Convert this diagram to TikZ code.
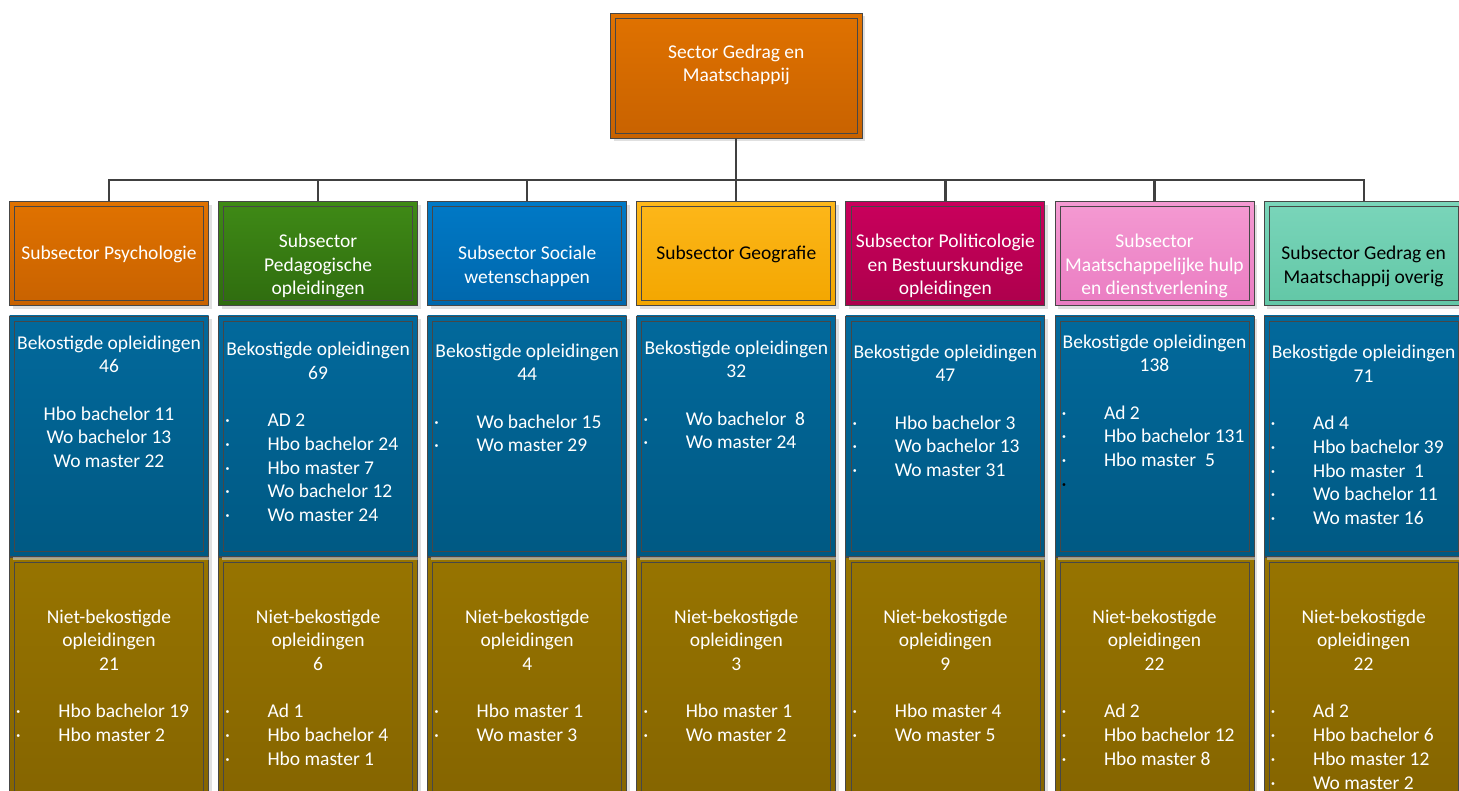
\documentclass[tikz,border=0pt]{standalone}
\usepackage{fontspec}
\setmainfont{Carlito}
\usetikzlibrary{shadows}
\definecolor{orangeT}{HTML}{E07200}\definecolor{orangeB}{HTML}{C86200}
\definecolor{greenT}{HTML}{3F8A16}\definecolor{greenB}{HTML}{2F6C0F}
\definecolor{sblueT}{HTML}{0079C6}\definecolor{sblueB}{HTML}{0067AC}
\definecolor{yellowT}{HTML}{FDB71A}\definecolor{yellowB}{HTML}{F3A600}
\definecolor{magT}{HTML}{C9005C}\definecolor{magB}{HTML}{AD004C}
\definecolor{pinkT}{HTML}{F49AD2}\definecolor{pinkB}{HTML}{EA7CC2}
\definecolor{tealT}{HTML}{7AD5BA}\definecolor{tealB}{HTML}{62C7A6}
\definecolor{blueT}{HTML}{02699C}\definecolor{blueB}{HTML}{005983}
\definecolor{goldT}{HTML}{977400}\definecolor{goldB}{HTML}{836300}
\definecolor{linec}{HTML}{404040}
\newcommand\hd[1]{\makebox[186pt][c]{\strut #1}}
\newcommand\itm[1]{\makebox[186pt][l]{\strut\makebox[42.5pt][l]{·}#1}}
\newcommand\itmk[1]{\makebox[186pt][l]{\strut\makebox[42.5pt][l]{\color{black}·}#1}}
\begin{document}
\begin{tikzpicture}[x=1pt,y=-1pt,
  box/.style={draw=black!72, line width=0.9pt, minimum width=199pt, inner sep=0pt,
    drop shadow={shadow xshift=3pt, shadow yshift=-3pt, fill=black!20, opacity=0.6},
    path picture={\draw[black!72, line width=0.7pt]
      ([shift={(5pt,-5pt)}]path picture bounding box.north west) rectangle
      ([shift={(-5pt,5pt)}]path picture bounding box.south east);}},
  txt/.style={font=\fontsize{19.5}{23.7}\selectfont, text=white, align=center, inner sep=0pt, anchor=north},
  conn/.style={draw=linec, line width=2.2pt}]
\useasboundingbox (0,0) rectangle (1459,791);
\clip (0,0) rectangle (1459,791);
% boxes
\foreach \i/\ct/\cb in {1/orangeT/orangeB,2/greenT/greenB,3/sblueT/sblueB,4/yellowT/yellowB,5/magT/magB,6/pinkT/pinkB,7/tealT/tealB}{
  \pgfmathsetmacro\cx{109+209.1*(\i-1)}
  \node[box, minimum height=273pt, top color=goldT, bottom color=goldB] (g\i) at (\cx,693.5) {};
  \node[box, minimum height=240.7pt, top color=blueT, bottom color=blueB] (b\i) at (\cx,436.35) {};
  \node[box, minimum height=104pt, top color=\ct, bottom color=\cb] (s\i) at (\cx,253.7) {};
}
\node[box, minimum width=251.3pt, minimum height=124.7pt, top color=orangeT, bottom color=orangeB] (top) at (736.3,75.65) {};
% connectors
\coordinate (hub) at (736.3,180);
\draw[conn] (top.south) -- (hub);
\foreach \i in {1,...,7}{\draw[conn] (s\i.north) |- (hub);}
% top text
\node[txt] (ttop) at (736.3,41.4) {\hd{Sector Gedrag en}\\\hd{Maatschappij}};
% subsector texts
\node[txt] (ts1) at (109,242.7) {\hd{Subsector Psychologie}};
\node[txt] (ts2) at (318.1,230.7) {\hd{Subsector}\\\hd{Pedagogische}\\\hd{opleidingen}};
\node[txt] (ts3) at (527.2,242.7) {\hd{Subsector Sociale}\\\hd{wetenschappen}};
\node[txt,text=black] (ts4) at (736.3,242.7) {\hd{Subsector Geografie}};
\node[txt] (ts5) at (945.4,230.7) {\hd{Subsector Politicologie}\\\hd{en Bestuurskundige}\\\hd{opleidingen}};
\node[txt] (ts6) at (1154.5,230.7) {\hd{Subsector}\\\hd{Maatschappelijke hulp}\\\hd{en dienstverlening}};
\node[txt,text=black] (ts7) at (1363.6,242.7) {\hd{Subsector Gedrag en}\\\hd{Maatschappij overig}};
% blue texts
\node[txt] (tb1) at (109,332.4) {\hd{Bekostigde opleidingen}\\\hd{46}\\\hd{}\\\hd{Hbo bachelor 11}\\\hd{Wo bachelor 13}\\\hd{Wo master 22}};
\node[txt] (tb2) at (318.1,339.0) {\hd{Bekostigde opleidingen}\\\hd{69}\\\hd{}\\\itm{AD 2}\\\itm{Hbo bachelor 24}\\\itm{Hbo master 7}\\\itm{Wo bachelor 12}\\\itm{Wo master 24}};
\node[txt] (tb3) at (527.2,340.4) {\hd{Bekostigde opleidingen}\\\hd{44}\\\hd{}\\\itm{Wo bachelor 15}\\\itm{Wo master 29}};
\node[txt] (tb4) at (736.3,337.4) {\hd{Bekostigde opleidingen}\\\hd{32}\\\hd{}\\\itm{Wo bachelor\ \ 8}\\\itm{Wo master 24}};
\node[txt] (tb5) at (945.4,341.4) {\hd{Bekostigde opleidingen}\\\hd{47}\\\hd{}\\\itm{Hbo bachelor 3}\\\itm{Wo bachelor 13}\\\itm{Wo master 31}};
\node[txt] (tb6) at (1154.5,331.4) {\hd{Bekostigde opleidingen}\\\hd{138}\\\hd{}\\\itm{Ad 2}\\\itm{Hbo bachelor 131}\\\itm{Hbo master\ \ 5}\\\itmk{}};
\node[txt] (tb7) at (1363.6,342.0) {\hd{Bekostigde opleidingen}\\\hd{71}\\\hd{}\\\itm{Ad 4}\\\itm{Hbo bachelor 39}\\\itm{Hbo master\ \ 1}\\\itm{Wo bachelor 11}\\\itm{Wo master 16}};
% gold texts
\node[txt] (tg1) at (109,606.4) {\hd{Niet-bekostigde}\\\hd{opleidingen}\\\hd{21}\\\hd{}\\\itm{Hbo bachelor 19}\\\itm{Hbo master 2}};
\node[txt] (tg2) at (318.1,606.4) {\hd{Niet-bekostigde}\\\hd{opleidingen}\\\hd{6}\\\hd{}\\\itm{Ad 1}\\\itm{Hbo bachelor 4}\\\itm{Hbo master 1}};
\node[txt] (tg3) at (527.2,606.4) {\hd{Niet-bekostigde}\\\hd{opleidingen}\\\hd{4}\\\hd{}\\\itm{Hbo master 1}\\\itm{Wo master 3}};
\node[txt] (tg4) at (736.3,606.4) {\hd{Niet-bekostigde}\\\hd{opleidingen}\\\hd{3}\\\hd{}\\\itm{Hbo master 1}\\\itm{Wo master 2}};
\node[txt] (tg5) at (945.4,606.4) {\hd{Niet-bekostigde}\\\hd{opleidingen}\\\hd{9}\\\hd{}\\\itm{Hbo master 4}\\\itm{Wo master 5}};
\node[txt] (tg6) at (1154.5,606.4) {\hd{Niet-bekostigde}\\\hd{opleidingen}\\\hd{22}\\\hd{}\\\itm{Ad 2}\\\itm{Hbo bachelor 12}\\\itm{Hbo master 8}};
\node[txt] (tg7) at (1363.6,606.4) {\hd{Niet-bekostigde}\\\hd{opleidingen}\\\hd{22}\\\hd{}\\\itm{Ad 2}\\\itm{Hbo bachelor 6}\\\itm{Hbo master 12}\\\itm{Wo master 2}};
\end{tikzpicture}
\end{document}
